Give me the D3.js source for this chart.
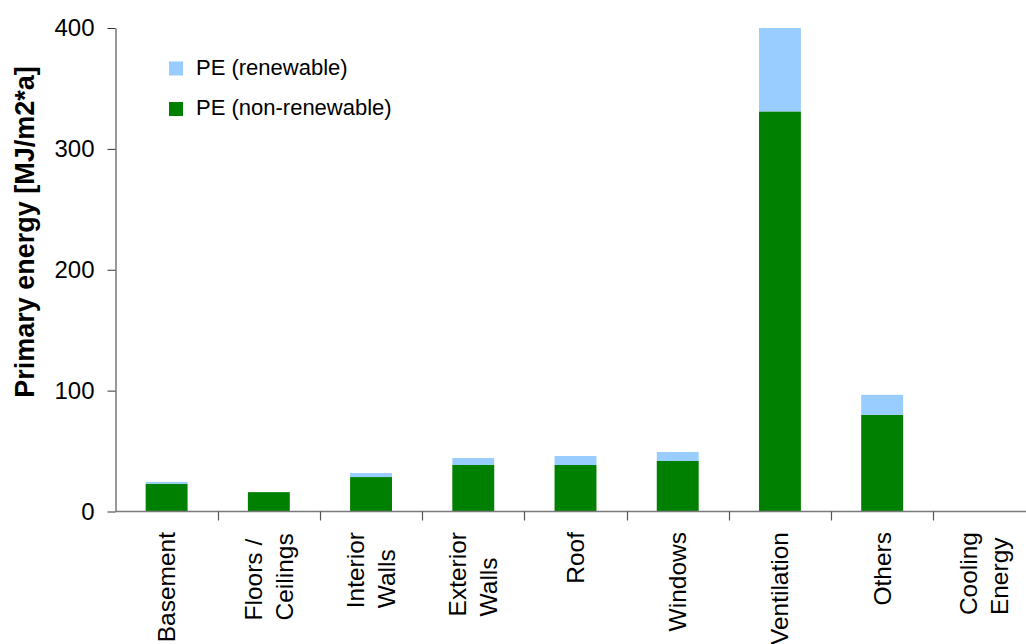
<!DOCTYPE html>
<html>
<head>
<meta charset="utf-8">
<script src="https://cdn.jsdelivr.net/npm/d3@7"></script>
<style>
  html, body { margin: 0; padding: 0; background: #fff; }
  svg { display: block; font-family: "Liberation Sans", Arial, Helvetica, sans-serif; }
</style>
</head>
<body>
<svg id="chart" width="1026" height="644"></svg>
<script>
// Primary energy per building component, stacked by renewable / non-renewable share
const categories = [
  ["Basement"],
  ["Floors / ", "Ceilings"],
  ["Interior", "Walls"],
  ["Exterior", "Walls"],
  ["Roof"],
  ["Windows"],
  ["Ventilation"],
  ["Others"],
  ["Cooling", "Energy"]
];
const nonRenewable = [23, 16, 28.5, 38.5, 38.5, 41.8, 331, 80, 0];
const renewable    = [1.5, 0, 3.3, 5.7, 7.4, 7.4, 69, 16.5, 0];
const yTicks = [0, 100, 200, 300, 400];
const seriesNames = ["PE (renewable)", "PE (non-renewable)"];
const seriesColors = { "PE (non-renewable)": "#008000", "PE (renewable)": "#99CCFF" };

const svg = d3.select("#chart");

const keys = categories.map(c => c.join(" "));
const rows = keys.map((k, i) => ({
  key: k,
  "PE (non-renewable)": nonRenewable[i],
  "PE (renewable)": renewable[i]
}));

const x = d3.scaleBand().domain(keys).range([115.5, 1035.5]).padding(0);
const y = d3.scaleLinear().domain([0, 400]).range([511.5, 28]);
const barFrac = 0.41;

// stacked bars: non-renewable at the bottom, renewable on top
const stack = d3.stack().keys(["PE (non-renewable)", "PE (renewable)"]);
const layers = stack(rows);

svg.append("g").selectAll("g")
  .data(layers).join("g")
  .attr("fill", d => seriesColors[d.key])
  .selectAll("rect")
  .data(d => d).join("rect")
  .attr("x", d => x(d.data.key) + x.bandwidth() * (1 - barFrac) / 2)
  .attr("width", x.bandwidth() * barFrac)
  .attr("y", d => y(d[1]))
  .attr("height", d => Math.max(0, y(d[0]) - y(d[1])));

// y axis
const yAxis = svg.append("g")
  .attr("transform", `translate(${x.range()[0]},0)`)
  .call(d3.axisLeft(y).tickValues(yTicks).tickSize(8).tickPadding(13).tickSizeOuter(0));
yAxis.select(".domain").attr("stroke", "#333");
yAxis.selectAll(".tick line").attr("stroke", "#333");
yAxis.selectAll(".tick text")
  .attr("font-size", 24).attr("fill", "#000")
  .attr("font-family", "'Liberation Sans', Arial, sans-serif");

// x axis baseline with category-boundary ticks
const x0 = x.range()[0];
svg.append("line")
  .attr("x1", x0).attr("x2", 1026)
  .attr("y1", y(0)).attr("y2", y(0))
  .attr("stroke", "#7a7a7a").attr("stroke-width", 1.6);
svg.append("g").selectAll("line")
  .data(keys.slice(1)).join("line")
  .attr("x1", d => Math.round(x(d)) + 0.5).attr("x2", d => Math.round(x(d)) + 0.5)
  .attr("y1", y(0)).attr("y2", y(0) + 9)
  .attr("stroke", "#555").attr("stroke-width", 1.2);

// rotated multi-line category labels
const lineGap = 31;
const labelTop = 532;
const labelG = svg.append("g");
keys.forEach((k, i) => {
  const lines = categories[i];
  const cx = x(k) + x.bandwidth() / 2;
  const g = labelG.append("g");
  const texts = lines.map((ln, j) => {
    const bx = cx + (j - (lines.length - 1) / 2) * lineGap + 8.5;
    return g.append("text")
      .attr("font-size", 24.5)
      .attr("fill", "#000")
      .style("white-space", "pre")
      .attr("data-bx", bx)
      .text(ln);
  });
  const longest = d3.max(texts, t => t.node().getComputedTextLength());
  const bottom = labelTop + longest;
  texts.forEach(t => {
    const bx = +t.attr("data-bx");
    t.attr("text-anchor", "start")
     .attr("transform", `translate(${bx},${bottom}) rotate(-90)`);
  });
});

// y axis title
svg.append("text")
  .attr("transform", "translate(34,232) rotate(-90)")
  .attr("text-anchor", "middle")
  .attr("font-size", 27)
  .attr("font-weight", "bold")
  .attr("fill", "#000")
  .text("Primary energy [MJ/m2*a]");

// legend
const legend = svg.append("g").selectAll("g")
  .data(seriesNames).join("g")
  .attr("transform", (d, i) => `translate(169,${61.5 + i * 40.5})`);
legend.append("rect")
  .attr("width", 14).attr("height", 14)
  .attr("fill", d => seriesColors[d]);
legend.append("text")
  .attr("x", 27).attr("y", 13)
  .attr("font-size", 22)
  .attr("fill", "#000")
  .text(d => d);
</script>
</body>
</html>
